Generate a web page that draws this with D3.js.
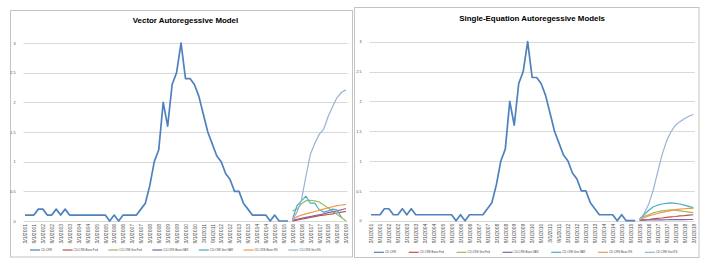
<!DOCTYPE html>
<html>
<head>
<meta charset="utf-8">
<script src="https://cdn.jsdelivr.net/npm/d3@7"></script>
<style>
  body { margin: 0; background: #fff; }
  svg { display: block; font-family: "Liberation Sans", Arial, sans-serif; }
</style>
</head>
<body>
<div id="chart"></div>
<script>
// quarterly categories 3/1/2001 .. 3/1/2019
const categories = []
for (let y = 2001; y <= 2019; y++) {
    for (const m of [3, 6, 9, 12]) {
        if (y === 2019 && m > 3) break
        categories.push(`${m}/1/${y}`)
    }
}
const yTicks = [0, 0.5, 1, 1.5, 2, 2.5, 3]

// history (3/1/2001 .. 12/1/2015)
const cdCre = [0.1, 0.1, 0.1, 0.2, 0.2, 0.1, 0.1, 0.2, 0.1, 0.2,
    0.1, 0.1, 0.1, 0.1, 0.1, 0.1, 0.1, 0.1, 0.1, 0,
    0.1, 0, 0.1, 0.1, 0.1, 0.1, 0.2, 0.3, 0.6, 1.0,
    1.2, 2.0, 1.6, 2.3, 2.5, 3.0, 2.4, 2.4, 2.3, 2.1,
    1.8, 1.5, 1.3, 1.1, 1.0, 0.8, 0.7, 0.5, 0.5, 0.3,
    0.2, 0.1, 0.1, 0.1, 0.1, 0, 0.1, 0, 0, 0]

// forecasts start 3/1/2016
const forecastStart = 60

// Vector autoregressive panel
const varBaseFed = [0.0, 0.015, 0.03, 0.045, 0.06, 0.075, 0.09, 0.1, 0.11, 0.12, 0.135, 0.15, 0.16]
const varSevFed = [0.17, 0.2, 0.29, 0.34, 0.35, 0.34, 0.32, 0.27, 0.22, 0.17, 0.11, 0.06, 0.0]
const varBaseVar = [0.01, 0.03, 0.045, 0.06, 0.075, 0.09, 0.105, 0.12, 0.14, 0.155, 0.17, 0.19, 0.21]
const varSevVar = [0.03, 0.26, 0.34, 0.42, 0.3, 0.3, 0.19, 0.15, 0.17, 0.2, 0.19, 0.06, null]
const varBaseRs = [0.03, 0.07, 0.1, 0.12, 0.14, 0.16, 0.18, 0.2, 0.22, 0.24, 0.26, 0.27, 0.28]
const varSevRs = [0.02, 0.15, 0.35, 0.75, 1.12, 1.31, 1.46, 1.55, 1.76, 1.93, 2.08, 2.17, 2.21]

// single-equation panel
const seBaseFed = [0.01, 0.015, 0.02, 0.03, 0.04, 0.045, 0.055, 0.065, 0.07, 0.08, 0.085, 0.095, 0.1]
const seSevFed = [0.03, 0.07, 0.1, 0.13, 0.15, 0.165, 0.175, 0.18, 0.175, 0.165, 0.155, 0.145, 0.135]
const seBaseVar = [0.01, 0.01, 0.012, 0.013, 0.014, 0.015, 0.016, 0.017, 0.018, 0.018, 0.019, 0.02, 0.02]
const seSevVar = [0.03, 0.1, 0.17, 0.23, 0.26, 0.28, 0.29, 0.3, 0.29, 0.28, 0.26, 0.24, 0.22]
const seBaseRs = [0.02, 0.05, 0.08, 0.1, 0.12, 0.14, 0.155, 0.17, 0.185, 0.195, 0.2, 0.205, 0.205]
const seSevRs = [0.02, 0.12, 0.27, 0.5, 0.8, 1.1, 1.33, 1.49, 1.6, 1.66, 1.71, 1.75, 1.78]

const seriesNames = ['CD.CRE', 'CD.CRE.Base.Fed', 'CD.CRE.Sev.Fed', 'CD.CRE.Base.VAR',
    'CD.CRE.Sev.VAR', 'CD.CRE.Base.RS', 'CD.CRE.Sev.RS']
const colors = ['#4F81BD', '#C0504D', '#9BBB59', '#8064A2', '#4BACC6', '#F79646', '#95B3D7']

const panels = [
    {
        title: 'Vector Autoregessive Model',
        frame: {x: 10.5, y: 10.5, w: 342, h: 246.5},
        x0: 25, x1: 346, y0: 221, y1: 43, titleY: 22.5,
        legendX: 30, legendY: 250, legendGap: 10.5,
        series: [cdCre, varBaseFed, varSevFed, varBaseVar, varSevVar, varBaseRs, varSevRs]
    },
    {
        title: 'Single-Equation Autoregessive Models',
        frame: {x: 354.5, y: 7.5, w: 344.5, h: 250},
        x0: 371, x1: 693.3, y0: 220.7, y1: 41.7, titleY: 20.8,
        legendX: 374, legendY: 252.3, legendGap: 12.6,
        series: [cdCre, seBaseFed, seSevFed, seBaseVar, seSevVar, seBaseRs, seSevRs]
    }
]

const width = 711
const height = 267

const svg = d3.select('#chart')
    .append('svg')
    .attr('width', width)
    .attr('height', height)

panels.forEach(p => drawPanel(p))

function drawPanel(p) {
    const g = svg.append('g')

    g.append('rect')
        .attr('x', p.frame.x)
        .attr('y', p.frame.y)
        .attr('width', p.frame.w)
        .attr('height', p.frame.h)
        .attr('fill', '#fff')
        .attr('stroke', '#C4C4C4')

    const xScale = d3.scalePoint()
        .domain(categories)
        .range([p.x0, p.x1])

    const yScale = d3.scaleLinear()
        .domain([0, 3])
        .range([p.y0, p.y1])

    // gridlines
    g.append('g')
        .selectAll('line')
        .data(yTicks)
        .join('line')
        .attr('x1', p.x0 - 1.5)
        .attr('x2', p.x1 + 1.5)
        .attr('y1', d => Math.round(yScale(d)) + 0.5)
        .attr('y2', d => Math.round(yScale(d)) + 0.5)
        .attr('stroke', '#D9D9D9')

    // y axis labels
    const yAxis = d3.axisLeft(yScale)
        .tickValues(yTicks)
        .tickSize(0)
        .tickPadding(0)
        .tickFormat(d3.format('~g'))
    const yAxisGroup = g.append('g')
        .attr('transform', `translate(${p.x0 - 9.5}, 0)`)
        .call(yAxis)
    yAxisGroup.select('.domain').remove()
    yAxisGroup.selectAll('text')
        .attr('font-size', 3.8)
        .attr('fill', '#4D4D4D')

    // x axis labels
    const xAxis = d3.axisBottom(xScale)
        .tickValues(categories.filter((d, i) => i % 2 === 0))
        .tickSize(0)
    const xAxisGroup = g.append('g')
        .attr('transform', `translate(0, ${p.y0})`)
        .call(xAxis)
    xAxisGroup.select('.domain').remove()
    xAxisGroup.selectAll('text')
        .attr('font-size', 5)
        .attr('fill', '#4D4D4D')
        .attr('transform', 'rotate(-90)')
        .attr('text-anchor', 'end')
        .attr('x', -3)
        .attr('y', 0)
        .attr('dy', '0.35em')

    // lines
    const line = d3.line()
        .defined(d => d.v !== null)
        .x(d => xScale(categories[d.i]))
        .y(d => yScale(d.v))

    p.series.forEach((values, k) => {
        const offset = k === 0 ? 0 : forecastStart
        const pts = values.map((v, j) => ({i: j + offset, v: v}))
        g.append('path')
            .datum(pts)
            .attr('d', line)
            .attr('fill', 'none')
            .attr('stroke', colors[k])
            .attr('stroke-width', k === 0 ? 1.7 : 1.2)
            .attr('stroke-linejoin', 'round')
    })

    // title
    g.append('text')
        .text(p.title)
        .attr('x', (p.x0 + p.x1) / 2)
        .attr('y', p.titleY)
        .attr('text-anchor', 'middle')
        .attr('font-size', 7.9)
        .attr('font-weight', 'bold')
        .attr('fill', '#000')

    // legend
    const legend = g.append('g')
        .attr('transform', `translate(${p.legendX}, ${p.legendY})`)
    let lx = 0
    seriesNames.forEach((name, k) => {
        legend.append('line')
            .attr('x1', lx)
            .attr('x2', lx + 10)
            .attr('stroke', colors[k])
            .attr('stroke-width', 1.2)
        const t = legend.append('text')
            .text(name)
            .attr('x', lx + 11)
            .attr('dy', '0.35em')
            .attr('font-size', 2.9)
            .attr('fill', '#4D4D4D')
        lx += 11 + t.node().getComputedTextLength() + p.legendGap
    })
}
</script>
</body>
</html>
